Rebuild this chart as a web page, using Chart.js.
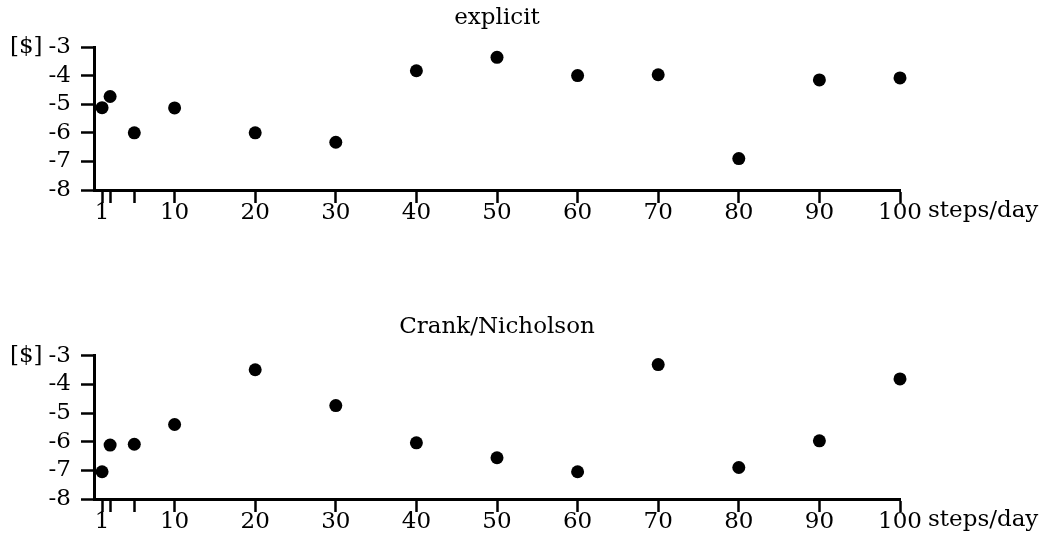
<!DOCTYPE html>
<html><head><meta charset="utf-8">
<script src="https://cdn.jsdelivr.net/npm/chart.js@4/dist/chart.umd.min.js"></script>
<style>
body{margin:0;background:#fff;width:1046px;height:546px;overflow:hidden;position:relative}
canvas{display:block;position:absolute;left:0}
</style>
</head><body>
<canvas id="c1" width="1046" height="273" style="top:0"></canvas>
<canvas id="c2" width="1046" height="273" style="top:273px"></canvas>
<script>
const stepsPerDay = [1, 2, 5, 10, 20, 30, 40, 50, 60, 70, 80, 90, 100];
const explicitValues = [-5.12, -4.73, -6.0, -5.13, -6.0, -6.33, -3.83, -3.36, -4.0, -3.97, -6.9, -4.15, -4.08];
const crankValues = [-7.05, -6.12, -6.09, -5.4, -3.49, -4.74, -6.04, -6.56, -7.05, -3.31, -6.9, -5.97, -3.81];
const xTickValues = [1, 2, 5, 10, 20, 30, 40, 50, 60, 70, 80, 90, 100];
const xTickLabels = ['1', '', '', '10', '20', '30', '40', '50', '60', '70', '80', '90', '100'];
const yTickValues = [-8, -7, -6, -5, -4, -3];
const yTickLabels = ['-8', '-7', '-6', '-5', '-4', '-3'];
const titles = ['explicit', 'Crank/Nicholson'];
const yUnit = '[$]';
const xUnit = 'steps/day';

const FONT = '"DejaVu Serif", serif';
const FSIZE = 23;
Chart.defaults.font.family = FONT;
Chart.defaults.font.size = FSIZE;
Chart.defaults.color = '#000';

const unitPlugin = {
  id: 'units',
  afterDraw(chart) {
    const ctx = chart.ctx, a = chart.chartArea;
    ctx.save();
    ctx.font = FSIZE + 'px ' + FONT;
    ctx.fillStyle = '#000';
    ctx.textAlign = 'left';
    ctx.textBaseline = 'middle';
    ctx.fillText(yUnit, 10, a.top);
    ctx.textBaseline = 'alphabetic';
    ctx.fillText(xUnit, a.right + 28, a.bottom + 27);
    ctx.restore();
  }
};

function makeChart(id, title, values, titlePad, xHeight) {
  return new Chart(document.getElementById(id), {
    type: 'scatter',
    data: {
      datasets: [{
        data: stepsPerDay.map((x, i) => ({x: x, y: values[i]})),
        backgroundColor: '#000',
        borderColor: '#000',
        borderWidth: 0,
        pointRadius: 6.5,
        pointHoverRadius: 6.5
      }]
    },
    options: {
      responsive: false,
      animation: false,
      devicePixelRatio: 1,
      clip: false,
      layout: {padding: {left: 0, right: 146, top: 0, bottom: 0}},
      plugins: {
        legend: {display: false},
        tooltip: {enabled: false},
        title: {
          display: true, text: title, fullSize: false, color: '#000',
          font: {family: FONT, size: FSIZE, weight: 'normal'},
          padding: titlePad
        }
      },
      scales: {
        x: {
          type: 'linear', min: 0, max: 100,
          afterBuildTicks(s) { s.ticks = xTickValues.map(v => ({value: v})); },
          afterFit(s) { s.height = xHeight; },
          ticks: {autoSkip: false, maxRotation: 0, padding: -4, color: '#000',
                  callback: (v, i) => xTickLabels[i]},
          grid: {drawOnChartArea: false, drawTicks: true, tickLength: 13, tickWidth: 2.5, color: '#000'},
          border: {display: true, color: '#000', width: 3}
        },
        y: {
          type: 'linear', min: -8, max: -3,
          afterBuildTicks(s) { s.ticks = yTickValues.map(v => ({value: v})); },
          afterFit(s) { s.width = 94; },
          ticks: {autoSkip: false, padding: 10, color: '#000',
                  callback: (v, i) => yTickLabels[i]},
          grid: {drawOnChartArea: false, drawTicks: true, tickLength: 13, tickWidth: 2.5, color: '#000'},
          border: {display: true, color: '#000', width: 3}
        }
      }
    },
    plugins: [unitPlugin]
  });
}

makeChart('c1', titles[0], explicitValues, {top: 4, bottom: 15.4}, 83);
makeChart('c2', titles[1], crankValues, {top: 40, bottom: 15.1}, 47);
</script>
</body></html>
